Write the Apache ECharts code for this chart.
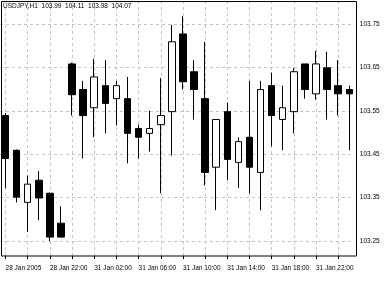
<!DOCTYPE html>
<html>
<head>
<meta charset="utf-8">
<script src="https://cdn.jsdelivr.net/npm/echarts@6/dist/echarts.min.js"></script>
<style>
    html, body {margin:0; padding:0; background:#fff;}
    #main {width:385px; height:287px;}
</style>
</head>
<body>
<div id="main"></div>
<script>
var categories = [
    '28 Jan 18:00', '28 Jan 19:00', '28 Jan 20:00', '28 Jan 21:00', '28 Jan 22:00', '28 Jan 23:00',
    '31 Jan 00:00', '31 Jan 01:00', '31 Jan 02:00', '31 Jan 03:00', '31 Jan 04:00', '31 Jan 05:00',
    '31 Jan 06:00', '31 Jan 07:00', '31 Jan 08:00', '31 Jan 09:00', '31 Jan 10:00', '31 Jan 11:00',
    '31 Jan 12:00', '31 Jan 13:00', '31 Jan 14:00', '31 Jan 15:00', '31 Jan 16:00', '31 Jan 17:00',
    '31 Jan 18:00', '31 Jan 19:00', '31 Jan 20:00', '31 Jan 21:00', '31 Jan 22:00', '31 Jan 23:00',
    '01 Feb 00:00', '01 Feb 01:00'
];
// open, high, low, close
var openVals  = [103.539, 103.459, 103.339, 103.390, 103.360, 103.291, 103.658, 103.599, 103.557, 103.608, 103.578, 103.578, 103.509, 103.498, 103.518, 103.548,
                 103.727, 103.640, 103.578, 103.420, 103.548, 103.431, 103.489, 103.408, 103.608, 103.530, 103.548, 103.658, 103.589, 103.649, 103.608, 103.599];
var highVals  = [103.545, 103.461, 103.401, 103.411, 103.362, 103.330, 103.661, 103.619, 103.670, 103.667, 103.619, 103.628, 103.518, 103.550, 103.626, 103.748,
                 103.768, 103.667, 103.709, 103.530, 103.569, 103.489, 103.619, 103.619, 103.638, 103.608, 103.649, 103.658, 103.688, 103.686, 103.667, 103.608];
var lowVals   = [103.372, 103.339, 103.271, 103.298, 103.250, 103.259, 103.539, 103.440, 103.489, 103.498, 103.516, 103.429, 103.440, 103.456, 103.360, 103.447,
                 103.599, 103.530, 103.378, 103.321, 103.390, 103.372, 103.360, 103.321, 103.468, 103.459, 103.498, 103.578, 103.576, 103.530, 103.539, 103.459];
var closeVals = [103.440, 103.351, 103.381, 103.349, 103.259, 103.259, 103.587, 103.539, 103.628, 103.567, 103.608, 103.498, 103.489, 103.509, 103.539, 103.709,
                 103.617, 103.599, 103.408, 103.530, 103.438, 103.479, 103.420, 103.599, 103.539, 103.557, 103.640, 103.599, 103.658, 103.599, 103.589, 103.589];
var priceTicks = [103.25, 103.35, 103.45, 103.55, 103.65, 103.75];
var firstLabel = '28 Jan 2005';
var headerText = 'USDJPY,H1  103.99  104.11  103.98  104.07';

var myChart = echarts.init(document.getElementById('main'));

var candles = [];
for (var i = 0; i < categories.length; i++) {
    candles.push([openVals[i], closeVals[i], lowVals[i], highVals[i]]);
}
var gridMarks = [];
for (var k = 0; k < priceTicks.length; k++) {
    gridMarks.push({yAxis: priceTicks[k]});
}
for (var j = 0; j < categories.length; j += 2) {
    gridMarks.push({xAxis: categories[j]});
}

var font = 'Liberation Sans, Arial, sans-serif';
var option = {
    animation: false,
    backgroundColor: '#fff',
    title: {
        text: headerText,
        left: 3,
        top: 3,
        padding: 0,
        textStyle: {fontSize: 6.5, fontWeight: 'normal', color: '#000', fontFamily: font}
    },
    grid: {
        left: -3.6,
        right: 30.2,
        top: 2,
        bottom: 31
    },
    xAxis: {
        type: 'category',
        data: categories,
        boundaryGap: true,
        axisLine: {show: false},
        axisTick: {
            show: true,
            alignWithLabel: true,
            interval: 1,
            length: 3,
            lineStyle: {color: '#000'}
        },
        axisLabel: {
            interval: 3,
            align: 'left',
            margin: 9,
            fontSize: 6.5,
            color: '#000',
            fontFamily: font,
            formatter: function (v, idx) {
                return idx === 0 ? firstLabel : v;
            }
        },
        splitLine: {show: false}
    },
    yAxis: {
        type: 'value',
        position: 'right',
        min: 103.2154,
        max: 103.8007,
        axisLine: {show: false},
        axisTick: {show: false},
        splitLine: {show: false},
        axisLabel: {
            customValues: priceTicks,
            margin: 5,
            fontSize: 6.5,
            color: '#000',
            fontFamily: font,
            formatter: function (v) { return v.toFixed(2); }
        }
    },
    graphic: [{
        type: 'rect',
        silent: true,
        z: 100,
        shape: {x: 1.5, y: 1.5, width: 355, height: 254.5},
        style: {fill: 'none', stroke: '#000', lineWidth: 1}
    }],
    series: [
        {
            name: 'grid',
            type: 'line',
            data: [],
            z: 1,
            silent: true,
            markLine: {
                silent: true,
                symbol: 'none',
                label: {show: false},
                lineStyle: {color: '#c4c4c4', type: [3, 3], width: 1},
                data: gridMarks
            }
        },
        {
            name: 'USDJPY',
            type: 'candlestick',
            z: 5,
            barWidth: 7,
            data: candles,
            itemStyle: {
                color: '#fff',
                color0: '#000',
                borderColor: '#000',
                borderColor0: '#000',
                borderWidth: 1
            }
        }
    ]
};
myChart.setOption(option);
window.onresize = function () {
    myChart.resize();
};
</script>
</body>
</html>
